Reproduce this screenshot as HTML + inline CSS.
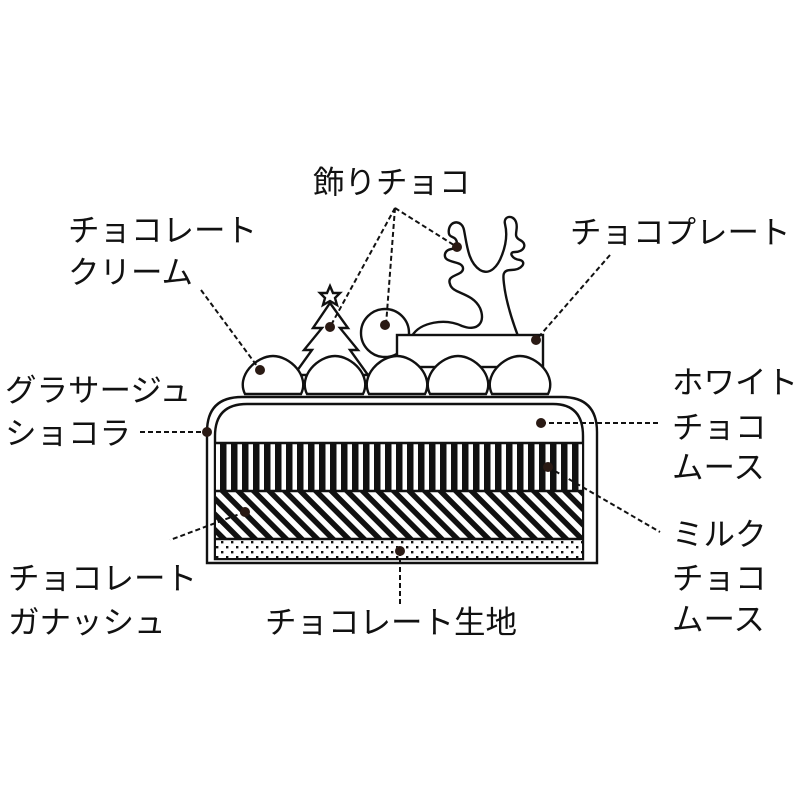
<!DOCTYPE html>
<html><head><meta charset="utf-8"><style>
html,body{margin:0;padding:0;background:#fff;}
svg{display:block;}
text{font-family:"Liberation Sans","Noto Sans CJK JP",sans-serif;font-size:31.5px;fill:#111;dominant-baseline:central;}
</style></head><body>
<svg width="800" height="800" viewBox="0 0 800 800" xmlns="http://www.w3.org/2000/svg">
<defs>
<pattern id="vs" width="11" height="20" patternUnits="userSpaceOnUse">
<rect width="11" height="20" fill="#fff"/><rect x="0" width="6.5" height="20" fill="#111"/>
</pattern>
<pattern id="dg" width="11" height="11" patternUnits="userSpaceOnUse" patternTransform="rotate(45)">
<rect width="11" height="11" fill="#fff"/><rect y="0" width="11" height="5.5" fill="#111"/>
</pattern>
<pattern id="dt" width="10" height="10" patternUnits="userSpaceOnUse">
<rect width="10" height="10" fill="#fff"/><rect x="1" y="1" width="2.4" height="2.4" fill="#111"/><rect x="6" y="6" width="2.4" height="2.4" fill="#111"/>
</pattern>
</defs>
<g stroke="#111" stroke-width="2.4" fill="none">
<path d="M207,563 V432 Q207,397 242,397 H562 Q597,397 597,432 V563 Z" fill="#fff"/>
<path d="M215,559 V436 Q215,404 247,404 H553 Q583,404 583,436 V559 Z" fill="#fff"/>
</g>
<rect x="216" y="443" width="366" height="48" fill="url(#vs)"/>
<rect x="216" y="491" width="366" height="48" fill="url(#dg)"/>
<rect x="216" y="539" width="366" height="19" fill="url(#dt)"/>
<g stroke="#111" stroke-width="2.4" fill="none">
<line x1="215" y1="443" x2="583" y2="443"/>
<line x1="215" y1="491" x2="583" y2="491"/>
<line x1="215" y1="539" x2="583" y2="539"/>
<!-- tree -->
<path d="M330,286 L333,293 L340,293 L335,298 L337,305 L330,301 L323,305 L325,298 L320,293 L327,293 Z" fill="#fff"/>
<path d="M330,303 L348,328 L340,328 L358,350 L350,350 L368,375 L294,375 L312,350 L304,350 L322,328 L313,328 Z" fill="#fff"/>
<!-- big ball -->
<circle cx="385" cy="333" r="24" fill="#fff"/>
<!-- reindeer -->
<path d="M412,336 C420,322 445,318 462,326 C478,332 486,322 480,308 C472,292 452,294 450,284 C446,274 464,276 463,268 C462,260 443,264 445,254 C447,246 458,252 457,243 C456,234 447,240 449,229 C451,220 462,220 464,230 C467,245 468,262 480,270 C490,276 498,266 502,255 C507,242 507,232 505,224 C503,216 513,214 516,222 C519,230 512,236 520,240 C528,244 524,252 515,252 C508,252 512,259 520,260 C527,262 522,270 511,270 C502,270 503,276 504,284 C506,302 512,320 518,336" fill="#fff"/>
<!-- plate -->
<rect x="397" y="335" width="146" height="32" fill="#fff"/>
<!-- balls -->
<path d="M245,394 C236,376 256,356 273,356 C290,356 310,376 301,394 Z" fill="#fff"/>
<path d="M307,394 C298,376 318,356 335,356 C352,356 372,376 363,394 Z" fill="#fff"/>
<path d="M369,394 C360,376 380,356 397,356 C414,356 434,376 425,394 Z" fill="#fff"/>
<path d="M430,394 C421,376 441,356 458,356 C475,356 495,376 486,394 Z" fill="#fff"/>
<path d="M492,394 C483,376 503,356 520,356 C537,356 557,376 548,394 Z" fill="#fff"/>
</g>
<g stroke="#111" stroke-width="2" stroke-dasharray="5,3" fill="none">
<line x1="395" y1="208" x2="330" y2="327"/>
<line x1="395" y1="208" x2="386" y2="325"/>
<line x1="395" y1="208" x2="457" y2="247"/>
<line x1="201" y1="290" x2="260" y2="370"/>
<line x1="140" y1="432" x2="207" y2="432"/>
<line x1="610" y1="255" x2="536" y2="340"/>
<line x1="541" y1="423" x2="660" y2="423"/>
<line x1="548" y1="467" x2="660" y2="532"/>
<line x1="245" y1="512" x2="170" y2="540"/>
<line x1="400" y1="551" x2="400" y2="605"/>
</g>
<g fill="#2a1a14">
<circle cx="330" cy="327" r="5"/><circle cx="385" cy="325" r="5"/><circle cx="457" cy="247" r="5"/>
<circle cx="536" cy="340" r="5"/><circle cx="260" cy="370" r="5"/><circle cx="207" cy="432" r="5"/>
<circle cx="541" cy="423" r="5"/><circle cx="548" cy="467" r="5"/><circle cx="245" cy="512" r="5"/>
<circle cx="400" cy="551" r="5"/>
</g>
<text x="313" y="182">飾りチョコ</text>
<text x="68" y="230">チョコレート</text>
<text x="68" y="272">クリーム</text>
<text x="570" y="232">チョコプレート</text>
<text x="5" y="390">グラサージュ</text>
<text x="5" y="433">ショコラ</text>
<text x="672" y="382">ホワイト</text>
<text x="672" y="427">チョコ</text>
<text x="672" y="467">ムース</text>
<text x="672" y="534">ミルク</text>
<text x="672" y="578">チョコ</text>
<text x="672" y="619">ムース</text>
<text x="8" y="578">チョコレート</text>
<text x="8" y="622">ガナッシュ</text>
<text x="265" y="622">チョコレート生地</text>
</svg>
</body></html>
